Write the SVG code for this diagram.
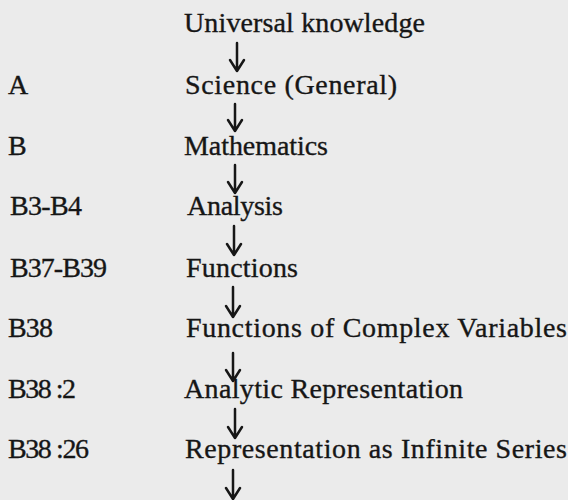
<svg xmlns="http://www.w3.org/2000/svg" width="568" height="500" viewBox="0 0 568 500">
<style>
text{font-family:'Liberation Serif','DejaVu Serif','Times New Roman',serif;font-size:28px;fill:#161616;stroke:#161616;stroke-width:0.35}
.arr{fill:none;stroke:#161616;stroke-width:2.5;stroke-linecap:round;stroke-linejoin:round}
</style>
<rect width="568" height="500" fill="#ebebeb"/>
<g id="n0"><text x="184" y="32" textLength="241" lengthAdjust="spacing">Universal knowledge</text></g>
<g id="n1"><text x="8" y="94">A</text><text x="185" y="94" textLength="212" lengthAdjust="spacing">Science (General)</text></g>
<g id="n2"><text x="8" y="155">B</text><text x="184" y="155" textLength="144" lengthAdjust="spacing">Mathematics</text></g>
<g id="n3"><text x="10" y="215" textLength="72" lengthAdjust="spacing">B3-B4</text><text x="187" y="215" textLength="96" lengthAdjust="spacing">Analysis</text></g>
<g id="n4"><text x="10" y="277" textLength="97" lengthAdjust="spacing">B37-B39</text><text x="186" y="277" textLength="112" lengthAdjust="spacing">Functions</text></g>
<g id="n5"><text x="8" y="337" textLength="45" lengthAdjust="spacing">B38</text><text x="186" y="337" textLength="381" lengthAdjust="spacing">Functions of Complex Variables</text></g>
<g id="n6"><text x="8" y="398" textLength="68" lengthAdjust="spacing">B38 :2</text><text x="184" y="398" textLength="279" lengthAdjust="spacing">Analytic Representation</text></g>
<g id="n7"><text x="8" y="458" textLength="81" lengthAdjust="spacing">B38 :26</text><text x="185" y="458" textLength="382" lengthAdjust="spacing">Representation as Infinite Series</text></g>
<g id="connectors" class="arr">
<path d="M237 43 V71 M230 60 L237 71 L244 60"/>
<path d="M235 104 V131 M228 120 L235 131 L242 120"/>
<path d="M235 165 V193 M228 182 L235 193 L242 182"/>
<path d="M234 226 V255 M227 244 L234 255 L241 244"/>
<path d="M233 287 V317 M226 306 L233 317 L240 306"/>
<path d="M233 353 V381 M226 370 L233 381 L240 370"/>
<path d="M235 409 V438 M228 427 L235 438 L242 427"/>
<path d="M233 470 V499 M226 488 L233 499 L240 488"/>
</g>
</svg>
